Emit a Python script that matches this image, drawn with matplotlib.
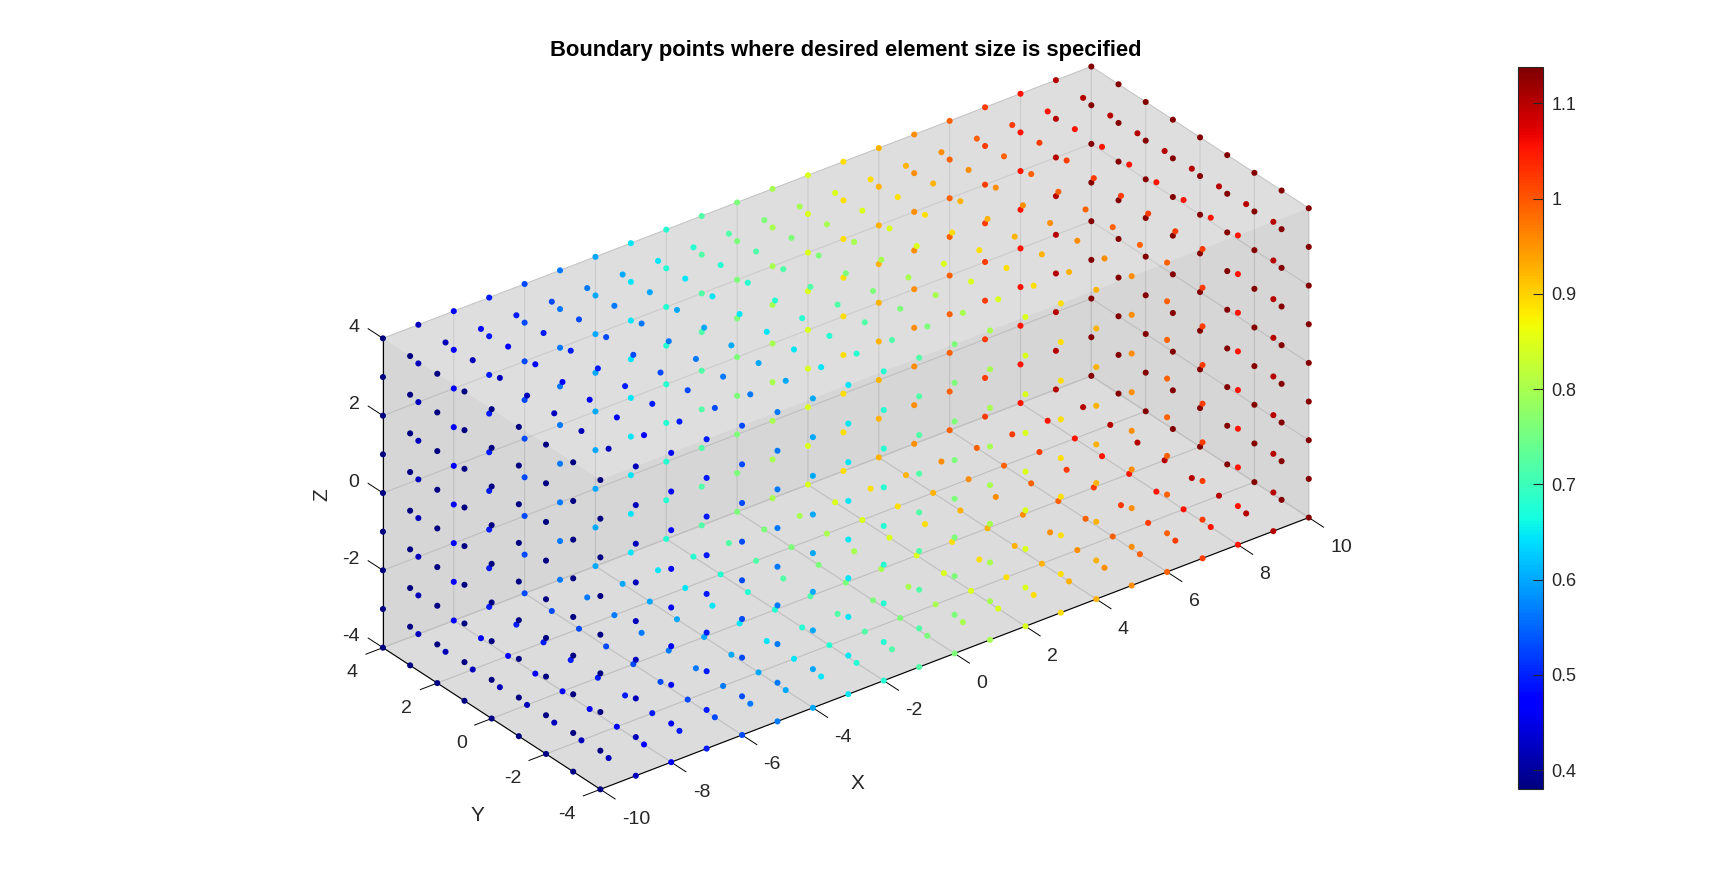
import matplotlib
matplotlib.use('Agg')
import numpy as np
import matplotlib.pyplot as plt
from mpl_toolkits.mplot3d import proj3d
from mpl_toolkits.mplot3d.art3d import Poly3DCollection

plt.rcParams['font.family'] = ['Liberation Sans', 'DejaVu Sans']
plt.rcParams['axes.unicode_minus'] = False

W, H = 1728, 888
TEXT = '#262626'

# grid of the box
x_vals = [-10, -9, -8, -7, -6, -5, -4, -3, -2, -1, 0, 1, 2, 3, 4, 5, 6, 7, 8, 9, 10]
y_vals = [-4, -3, -2, -1, 0, 1, 2, 3, 4]
z_vals = [-4, -3, -2, -1, 0, 1, 2, 3, 4]

# desired element size, read from the colours along the x direction
size_by_x = [0.38, 0.42, 0.46, 0.495, 0.53, 0.565, 0.60, 0.645, 0.68, 0.72, 0.76,
             0.80, 0.845, 0.89, 0.925, 0.955, 0.99, 1.02, 1.055, 1.10, 1.135]

x_ticks = [-10, -8, -6, -4, -2, 0, 2, 4, 6, 8, 10]
y_ticks = [-4, -2, 0, 2, 4]
z_ticks = [-4, -2, 0, 2, 4]
cbar_ticks = [0.4, 0.5, 0.6, 0.7, 0.8, 0.9, 1.0, 1.1]
cbar_labels = ['0.4', '0.5', '0.6', '0.7', '0.8', '0.9', '1', '1.1']

# keep only the lattice points on the outside of the box
px, py, pz, pc = [], [], [], []
for i, x in enumerate(x_vals):
    for y in y_vals:
        for z in z_vals:
            if x in (x_vals[0], x_vals[-1]) or y in (y_vals[0], y_vals[-1]) or z in (z_vals[0], z_vals[-1]):
                px.append(x)
                py.append(y)
                pz.append(z)
                pc.append(size_by_x[i])

fig = plt.figure(figsize=(W / 100, H / 100), dpi=100)

# the axes are larger than the box so no marker gets clipped
L = 1150
ax = fig.add_axes([0.15, 0.0, L / W, L / H], projection='3d', proj_type='ortho')
ax.patch.set_alpha(0)
ax.computed_zorder = False
ax.view_init(elev=30, azim=-127.5)
ax.set_xlim(-10, 10, view_margin=0)
ax.set_ylim(-4, 4, view_margin=0)
ax.set_zlim(-4, 4, view_margin=0)


def to_px(x, y, z):
    # pixel position of a data point, measured from the lower left of the figure
    X, Y, _ = proj3d.proj_transform(x, y, z, ax.get_proj())
    return ax.transData.transform((X, Y))


# scale and move the box so that it lands where it is in the reference
zoom = 0.9
ax.set_box_aspect((20, 8, 8), zoom=zoom)
ax.apply_aspect()
zoom *= 708.4 / (to_px(10, -4, -4)[0] - to_px(-10, -4, -4)[0])
ax.set_box_aspect((20, 8, 8), zoom=zoom)
ax.apply_aspect()
c = to_px(0, 0, 0)
pos = ax.get_position()
ax.set_position([pos.x0 + (845.85 - c[0]) / W, pos.y0 + (H - 427.95 - c[1]) / H, L / W, L / H])
ax.apply_aspect()

for axis, col in ((ax.xaxis, '#d6d6d6'), (ax.yaxis, '#d6d6d6'), (ax.zaxis, '#dcdcdc')):
    axis.set_pane_color(col)
    axis.pane.set_edgecolor('none')
    axis._axinfo['grid']['color'] = '#bfbfbf'
    axis._axinfo['grid']['linewidth'] = 0.8
    axis._axinfo['axisline']['color'] = '#262626'
    axis._axinfo['tick']['color'] = '#262626'
    axis._axinfo['tick']['linewidth'] = {True: 0.7, False: 0.7}
    axis._axinfo['tick']['inward_factor'] = 0
    axis.line.set_linewidth(0.8)
# ticks point away from the box
ax.xaxis._axinfo['tick']['outward_factor'] = -0.85
ax.yaxis._axinfo['tick']['outward_factor'] = -0.3
ax.zaxis._axinfo['tick']['outward_factor'] = 0.85
ax.zaxis._get_tickdir = lambda position: 1

ax.set_xticks(x_ticks)
ax.set_yticks(y_ticks)
ax.set_zticks(z_ticks)
ax.set_xticklabels([])
ax.set_yticklabels([])
ax.set_zticklabels([])


def label_at(point, dx, dy, text, **kw):
    p = to_px(*point)
    fig.text((p[0] + dx) / W, (p[1] - dy) / H, text, fontsize=14, color=TEXT, va='center', **kw)


# tick labels at fixed pixel offsets from their ticks
for x in x_ticks:
    label_at((x, -4, -4), 21.5, 30, str(x), ha='left')
for y in y_ticks:
    label_at((-10, y, -4), -25, 25, str(y), ha='right')
for z in z_ticks:
    label_at((-10, 4, z), -23.5, -11, str(z), ha='right')

fig.text(857 / W, 1 - 783 / H, 'X', fontsize=15, color=TEXT, ha='center', va='center')
fig.text(477 / W, 1 - 815.4 / H, 'Y', fontsize=15, color=TEXT, ha='center', va='center')
fig.text(322 / W, 1 - 494.6 / H, 'Z', fontsize=15, color=TEXT, ha='center', va='center', rotation=90)

# lighter top of the box, the walls show through it
top = [[(-10, -4, 4), (10, -4, 4), (10, 4, 4), (-10, 4, 4)]]
ax.add_collection3d(Poly3DCollection(top, facecolors=[(1, 1, 1, 0.2)], edgecolors='none', zorder=1))

sc = ax.scatter(px, py, pz, c=pc, cmap='jet', vmin=0.38, vmax=1.138, s=19, linewidths=0,
                depthshade=False, alpha=1, zorder=2)

fig.text(846 / W, 1 - 50.7 / H, 'Boundary points where desired element size is specified',
         fontsize=15.8, fontweight='bold', color='black', ha='center', va='center')

cax = fig.add_axes([1518.3 / W, 1 - 789.3 / H, 25 / W, 722 / H])
cb = fig.colorbar(sc, cax=cax, ticks=cbar_ticks)
cb.ax.set_yticklabels(cbar_labels)
cb.ax.tick_params(direction='in', length=7, width=0.8, color=TEXT, labelcolor=TEXT, labelsize=13, pad=6)
cb.outline.set_edgecolor(TEXT)
cb.outline.set_linewidth(0.8)

fig.savefig('out.png', dpi=100)
